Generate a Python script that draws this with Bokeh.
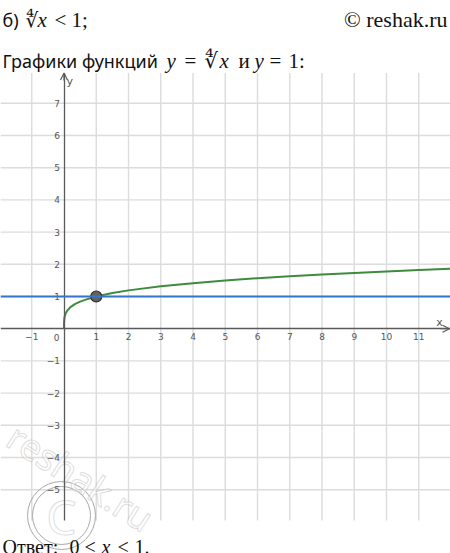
from bokeh.plotting import figure
from bokeh.models import Range1d, LinearAxis, FixedTicker, Span, Arrow, OpenHead
from bokeh.core.properties import value
from bokeh.embed import file_html
from bokeh.resources import INLINE

# ---- data ----
x_ticks = [-1, 1, 2, 3, 4, 5, 6, 7, 8, 9, 10, 11]
y_ticks = [-5, -4, -3, -2, -1, 1, 2, 3, 4, 5, 6, 7]
x_tick_labels = ["−1", "1", "2", "3", "4", "5", "6", "7", "8", "9", "10", "11"]
y_tick_labels = ["−5", "−4", "−3", "−2", "−1", "1", "2", "3", "4", "5", "6", "7"]
# y = fourth root of x
curve_x = [0, 0.0005, 0.005, 0.02, 0.05, 0.1, 0.2, 0.35, 0.5, 0.7, 1, 1.5, 2, 3, 4, 5, 6, 7, 8, 9, 10, 11, 12]
curve_y = [0, 0.15, 0.27, 0.38, 0.47, 0.56, 0.67, 0.77, 0.84, 0.91, 1.0, 1.11, 1.19, 1.32, 1.41, 1.50, 1.57, 1.63, 1.68, 1.73, 1.78, 1.82, 1.86]
hline_y = 1
point_x = [1]
point_y = [1]

# ---- geometry (page pixels -> data) ----
X0_PX, UX = 63.5, 32.25
Y0_PX, UY = 328.2, 32.2
W, H = 450, 553


def X(px):
    return (px - X0_PX) / UX


def Y(py):
    return (Y0_PX - py) / UY


x_lo, x_hi = X(0), X(W)
y_lo, y_hi = Y(H), Y(0)
g_top, g_bot = Y(72.5), Y(520)

p = figure(width=W, height=H, x_range=Range1d(x_lo, x_hi), y_range=Range1d(y_lo, y_hi),
           output_backend="svg", toolbar_location=None, x_axis_type=None, y_axis_type=None,
           min_border=0, outline_line_color=None, background_fill_color="white")

GRID = "#dcdcdc"
p.segment(x0=x_ticks, y0=[g_bot] * len(x_ticks), x1=x_ticks, y1=[g_top] * len(x_ticks),
          line_color=GRID, line_width=1.4)
p.segment(x0=[x_lo] * len(y_ticks), y0=y_ticks, x1=[x_hi] * len(y_ticks), y1=y_ticks,
          line_color=GRID, line_width=1.4)

AX = "#5a5a5a"
xaxis = LinearAxis(fixed_location=0, ticker=FixedTicker(ticks=x_ticks),
                   major_label_overrides={t: l for t, l in zip(x_ticks, x_tick_labels)},
                   axis_line_color=AX, axis_line_width=1.3,
                   major_tick_line_color=None, minor_tick_line_color=None,
                   major_tick_in=0, major_tick_out=0, major_label_standoff=4,
                   major_label_text_font="DejaVu Sans",
                   major_label_text_font_size="9px", major_label_text_color="#555555")
p.add_layout(xaxis, "below")
yaxis = LinearAxis(fixed_location=0, ticker=FixedTicker(ticks=y_ticks),
                   major_label_overrides={t: l for t, l in zip(y_ticks, y_tick_labels)},
                   axis_line_color=AX, axis_line_width=1.3, bounds=(g_bot, g_top),
                   major_tick_line_color=None, minor_tick_line_color=None,
                   major_tick_in=0, major_tick_out=0, major_label_standoff=4,
                   major_label_text_font="DejaVu Sans",
                   major_label_text_font_size="9px", major_label_text_color="#555555")
p.add_layout(yaxis, "left")

p.add_layout(Arrow(end=OpenHead(size=7, line_color=AX, line_width=1.2),
                   x_start=X(440), y_start=0, x_end=X(449), y_end=0, line_color=AX, line_width=1.3))
p.add_layout(Arrow(end=OpenHead(size=7, line_color=AX, line_width=1.2),
                   x_start=0, y_start=Y(80), x_end=0, y_end=Y(72.5), line_color=AX, line_width=1.3))

lab = dict(text_font=value("DejaVu Sans"), text_color="#555555")
p.text(x=[X(56)], y=[Y(337)], text=["0"], text_align="center", text_baseline="middle",
       text_font_size="9px", **lab)
p.text(x=[X(66)], y=[Y(81)], text=["y"], text_align="left", text_baseline="middle",
       text_font_size="11px", **lab)
p.text(x=[X(439)], y=[Y(322)], text=["x"], text_align="center", text_baseline="middle",
       text_font_size="11px", **lab)

# functions
p.add_layout(Span(location=hline_y, dimension="width", line_color="#3277cc", line_width=2))
p.line(curve_x, curve_y, line_color="#3e8b3f", line_width=2)
p.scatter(point_x, point_y, size=11, fill_color="#626262", line_color="#2a2a2a", line_width=1.2)

# watermark
WM = "#a8a8a8"
p.scatter([X(61)], [Y(515)], size=68, fill_color=None, line_color=WM, line_width=1)
p.scatter([X(61)], [Y(515)], size=58, fill_color=None, line_color=WM, line_width=1)
p.text(x=[X(61)], y=[Y(516)], text=["C"], text_align="center", text_baseline="middle",
       text_font=value("Noto Sans"), text_font_size="48px", text_color="white", text_alpha=0.4,
       text_outline_color=WM)
p.text(x=[X(11)], y=[Y(432)], text=["reshak.ru"], angle=-0.57, text_align="left",
       text_baseline="middle", text_font=value("Noto Sans"), text_font_size="37px",
       text_color="white", text_alpha=0.4, text_outline_color=WM)

# header / footer text
SANS = value("Noto Sans")
SERIF = value("Liberation Serif")
ROOT = value("DejaVu Serif")


def put(px, base, s, font, size, italic=False, align="left"):
    p.text(x=[X(px)], y=[Y(base)], text=[s], text_align=align, text_baseline="alphabetic",
           text_font=font, text_font_size=size, text_color="#111111",
           text_font_style="italic" if italic else "normal")


# line 1
put(2, 19, "б)", SANS, "18px")
put(25, 19, "∜", ROOT, "20px")
put(37, 19, "x", SERIF, "21px", italic=True)
put(54, 19, "< 1;", SERIF, "21px")
put(447, 19, "© reshak.ru", SERIF, "22px", align="right")
# line 2
put(2, 60, "Графики функций", SANS, "18px")
put(166, 60, "y", SERIF, "21px", italic=True)
put(184, 60, "=", SERIF, "21px")
put(204, 60, "∜", ROOT, "21px")
put(219, 60, "x", SERIF, "21px", italic=True)
put(238, 60, "и", SERIF, "21px")
put(254, 60, "y", SERIF, "21px", italic=True)
put(269, 60, "=", SERIF, "21px")
put(288, 60, "1:", SERIF, "21px")
# answer
put(2, 546, "Ответ:", SERIF, "20px")
put(69, 546, "0", SERIF, "20px")
put(84, 546, "<", SERIF, "20px")
put(101, 546, "x", SERIF, "20px", italic=True)
put(117, 546, "<", SERIF, "20px")
put(134, 546, "1.", SERIF, "20px")

open("out.html", "w").write(file_html(p, INLINE))
